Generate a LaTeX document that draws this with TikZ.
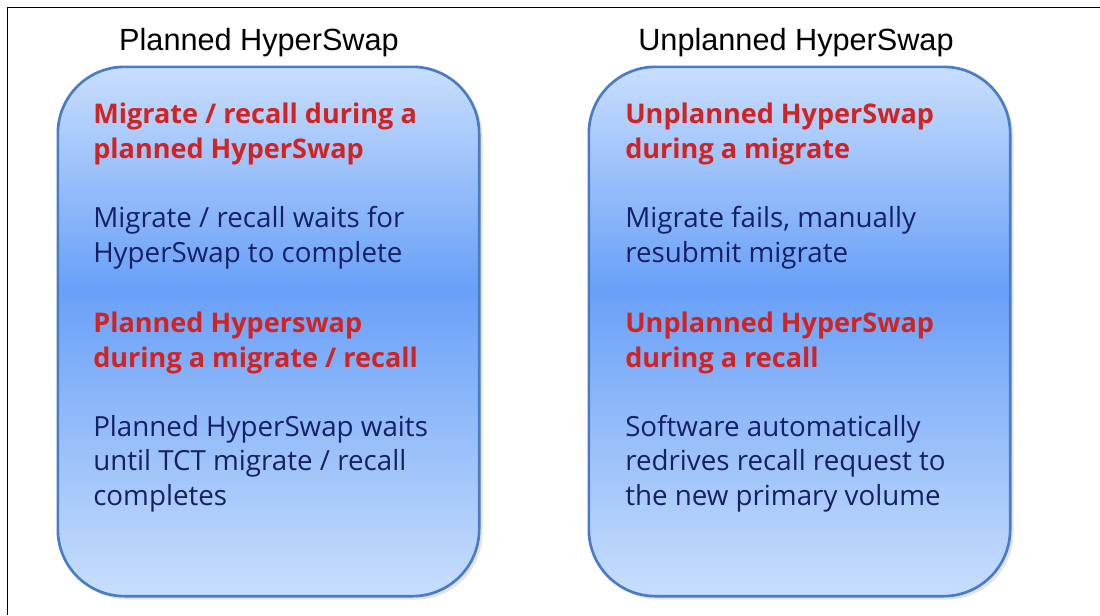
\documentclass[tikz,border=0pt]{standalone}
\usepackage{fontspec}
\setmainfont{Open Sans}
\newfontfamily\titlefont{Liberation Sans}
\usetikzlibrary{shadows, positioning, calc}
\definecolor{hsred}{RGB}{210,35,35}
\definecolor{hsnavy}{RGB}{22,32,100}
\definecolor{hsedge}{RGB}{74,124,196}
\definecolor{hslight}{RGB}{200,222,252}
\definecolor{hsmid}{RGB}{105,160,248}
\pgfdeclareverticalshading{hsfill}{100bp}{color(0bp)=(hslight); color(25bp)=(hslight); color(54bp)=(hsmid); color(75bp)=(hslight); color(100bp)=(hslight)}

\begin{document}
\begin{tikzpicture}[x=0.75pt,y=-0.75pt,
  hsbox/.style={draw=hsedge,line width=2pt,rounded corners=50pt,shading=hsfill,
    minimum width=316pt,minimum height=397pt,
    drop shadow={shadow xshift=2.5pt,shadow yshift=-2.5pt,fill=black!22}},
  hstitle/.style={anchor=base,font=\titlefont\fontsize{23}{26}\selectfont},
  hshead/.style={anchor=base west,align=left,inner sep=0pt,text=hsred,font=\fontsize{20.3}{26}\selectfont\bfseries},
  hsbody/.style={anchor=base west,align=left,inner sep=0pt,text=hsnavy,font=\fontsize{20.8}{26}\selectfont}]
\useasboundingbox (0,0) rectangle (1100,615);
\draw[line width=1pt] (7.5,615) -- (7.5,7.5) -- (1100,7.5);

% planned
\node[hstitle] (titleL) at (259,50) {Planned HyperSwap};
\node[hsbox] (planned) at (268.5,331.5) {};
\node[hshead] (headL1) at (93,158.5) {Migrate / recall during a\\planned HyperSwap};
\node[hsbody] (bodyL1) at (93,262.5) {Migrate / recall waits for\\HyperSwap to complete};
\node[hshead] (headL2) at (93,367) {Planned Hyperswap\\during a migrate / recall};
\node[hsbody] (bodyL2) at (93,505.5) {Planned HyperSwap waits\\until TCT migrate / recall\\completes};

% unplanned
\node[hstitle] (titleR) at (796,50) {Unplanned HyperSwap};
\node[hsbox] (unplanned) at (799.5,331.5) {};
\node[hshead] (headR1) at (625,158.5) {Unplanned HyperSwap\\during a migrate};
\node[hsbody] (bodyR1) at (625,262.5) {Migrate fails, manually\\resubmit migrate};
\node[hshead] (headR2) at (625,367) {Unplanned HyperSwap\\during a recall};
\node[hsbody] (bodyR2) at (625,505.5) {Software automatically\\redrives recall request to\\the new primary volume};
\end{tikzpicture}
\end{document}
